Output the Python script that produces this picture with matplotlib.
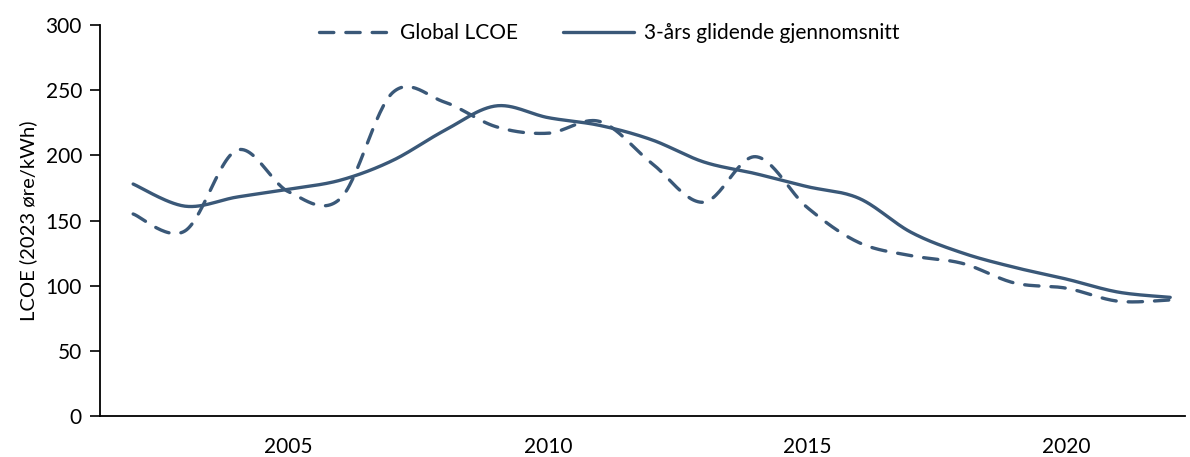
import numpy as np
import matplotlib
matplotlib.use("Agg")
import matplotlib.pyplot as plt

years = list(range(2002, 2023))
global_lcoe = [155, 142, 204, 172, 167, 248, 241, 222, 217, 226, 194, 164,
               199, 160, 133, 123, 117, 102, 98, 88, 89]
moving_avg = [178, 161, 168, 174, 181, 196, 219, 238, 229, 223, 212, 195,
              186, 176, 167, 141, 125, 114, 105, 95, 91]
y_ticks = [0, 50, 100, 150, 200, 250, 300]
x_ticks = [2005, 2010, 2015, 2020]
labels = ["Global LCOE", "3-års glidende gjennomsnitt"]
ylabel = "LCOE (2023 øre/kWh)"

COLOR = "#3A5878"
plt.rcParams['font.family'] = ['Lato', 'DejaVu Sans']


def smooth(xs, ys, n=30):
    """Excel-like smoothed line: Bezier segments through each data point."""
    xs = np.asarray(xs, float)
    ys = np.asarray(ys, float)
    px = np.concatenate([[xs[0]], xs, [xs[-1]]])
    py = np.concatenate([[ys[0]], ys, [ys[-1]]])
    ox, oy = [], []
    t = np.linspace(0, 1, n)
    for i in range(1, len(px) - 2):
        p0 = np.array([px[i], py[i]])
        p3 = np.array([px[i + 1], py[i + 1]])
        p1 = p0 + (np.array([px[i + 1], py[i + 1]]) - np.array([px[i - 1], py[i - 1]])) / 6
        p2 = p3 - (np.array([px[i + 2], py[i + 2]]) - np.array([px[i], py[i]])) / 6
        b = ((1 - t) ** 3)[:, None] * p0 + (3 * (1 - t) ** 2 * t)[:, None] * p1 \
            + (3 * (1 - t) * t ** 2)[:, None] * p2 + (t ** 3)[:, None] * p3
        if i > 1:
            b = b[1:]
        ox.extend(b[:, 0])
        oy.extend(b[:, 1])
    return np.array(ox), np.array(oy)


fig = plt.figure(figsize=(11.9, 4.57), dpi=100)
ax = fig.add_axes([0.084, 0.090, 0.912, 0.855])

sx, sy = smooth(years, global_lcoe)
l1, = ax.plot(sx, sy, color=COLOR, lw=2.4, linestyle=(0, (4.3, 3.6)),
              dash_capstyle='round', label=labels[0])
mx, my = smooth(years, moving_avg)
l2, = ax.plot(mx, my, color=COLOR, lw=2.4, solid_capstyle='round', label=labels[1])

ax.set_xlim(2001.36, 2022.29)
ax.set_ylim(0, 300)
ax.set_yticks(y_ticks)
ax.set_xticks(x_ticks)
ax.tick_params(axis='y', direction='out', length=7, width=1.2, labelsize=15, pad=6)
ax.tick_params(axis='x', length=0, labelsize=15, pad=15)
for s in ['top', 'right']:
    ax.spines[s].set_visible(False)
for s in ['left', 'bottom']:
    ax.spines[s].set_linewidth(1.3)
    ax.spines[s].set_color('black')
ax.set_ylabel(ylabel, fontsize=14.5, labelpad=6)

fig.legend(handles=[l1, l2], loc='center', bbox_to_anchor=(0.512, 0.928), ncol=2,
           frameon=False, fontsize=15, handlelength=3.4, columnspacing=2.2,
           handletextpad=0.45)

fig.savefig("out.png", dpi=100)
